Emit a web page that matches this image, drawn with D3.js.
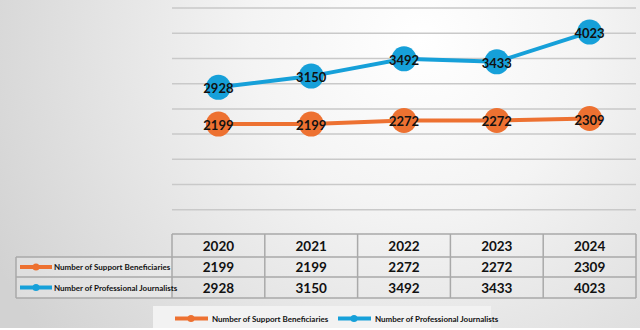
<!DOCTYPE html>
<html>
<head>
<meta charset="utf-8">
<script src="https://cdn.jsdelivr.net/npm/d3@7"></script>
<style>
  body { margin: 0; padding: 0; overflow: hidden; }
  svg { display: block; font-family: Lato, "Open Sans", sans-serif; font-weight: bold; }
</style>
</head>
<body>
<div id="chart-area"></div>
<script>
var years = ["2020", "2021", "2022", "2023", "2024"];
var beneficiaries = [2199, 2199, 2272, 2272, 2309];
var journalists = [2928, 3150, 3492, 3433, 4023];
var seriesNames = ["Number of Support Beneficiaries", "Number of Professional Journalists"];
var seriesColors = ["#ed7131", "#16a0d9"];

var width = 640;
var height = 330;

var svg = d3.select("#chart-area")
    .append("svg")
    .attr("width", width)
    .attr("height", height);

// background gradient
var defs = svg.append("defs");
var grad = defs.append("radialGradient")
    .attr("id", "bg")
    .attr("gradientUnits", "userSpaceOnUse")
    .attr("cx", 420).attr("cy", 40).attr("r", 480);
grad.append("stop").attr("offset", "0%").attr("stop-color", "#ffffff");
grad.append("stop").attr("offset", "35%").attr("stop-color", "#f4f4f4");
grad.append("stop").attr("offset", "100%").attr("stop-color", "#d2d2d2");

svg.append("rect")
    .attr("width", width)
    .attr("height", 328)
    .attr("fill", "url(#bg)");
svg.append("rect")
    .attr("y", 328)
    .attr("width", width)
    .attr("height", 2)
    .attr("fill", "#ffffff");

var x = d3.scaleBand()
    .domain(years)
    .range([172, 636]);

var y = d3.scaleLinear()
    .domain([0, 4500])
    .range([235, 8]);

// gridlines
svg.selectAll(".grid")
    .data(y.ticks(9).filter(function(d) { return d > 0; }))
    .enter()
    .append("line")
    .attr("class", "grid")
    .attr("x1", 172)
    .attr("x2", 636)
    .attr("y1", function(d) { return y(d); })
    .attr("y2", function(d) { return y(d); })
    .attr("stroke", "#c9c9c9")
    .attr("stroke-width", 1.5);

var series = [beneficiaries, journalists];

var line = d3.line()
    .x(function(d, i) { return x(years[i]) + x.bandwidth() / 2; })
    .y(function(d) { return y(d); });

series.forEach(function(values, s) {
    svg.append("path")
        .datum(values)
        .attr("d", line)
        .attr("fill", "none")
        .attr("stroke", seriesColors[s])
        .attr("stroke-width", 4);

    svg.selectAll(".dot" + s)
        .data(values)
        .enter()
        .append("circle")
        .attr("cx", function(d, i) { return x(years[i]) + x.bandwidth() / 2; })
        .attr("cy", function(d) { return y(d); })
        .attr("r", 12.5)
        .attr("fill", seriesColors[s]);

    svg.selectAll(".lbl" + s)
        .data(values)
        .enter()
        .append("text")
        .attr("x", function(d, i) { return x(years[i]) + x.bandwidth() / 2; })
        .attr("y", function(d) { return y(d) + 6; })
        .attr("text-anchor", "middle")
        .attr("font-size", 13)
        .attr("fill", "#111")
        .text(function(d) { return d; });
});

// data table
var rowY = [234, 257, 277, 298];
var table = svg.append("g");

table.append("rect")
    .attr("x", 16).attr("y", rowY[1])
    .attr("width", 156).attr("height", rowY[3] - rowY[1])
    .attr("fill", "#ffffff").attr("fill-opacity", 0.25);

var border = "#a9a9a9";
// horizontal lines
table.append("line").attr("x1", 172).attr("x2", 636).attr("y1", rowY[0]).attr("y2", rowY[0])
    .attr("stroke", border).attr("stroke-width", 1.5);
[rowY[1], rowY[2], rowY[3]].forEach(function(yy) {
    table.append("line").attr("x1", 16).attr("x2", 636).attr("y1", yy).attr("y2", yy)
        .attr("stroke", border).attr("stroke-width", 1.5);
});
// vertical lines
table.append("line").attr("x1", 16).attr("x2", 16).attr("y1", rowY[1]).attr("y2", rowY[3])
    .attr("stroke", border).attr("stroke-width", 1.5);
table.selectAll(".vline")
    .data(years.concat(["end"]))
    .enter()
    .append("line")
    .attr("x1", function(d) { return d === "end" ? 636 : x(d); })
    .attr("x2", function(d) { return d === "end" ? 636 : x(d); })
    .attr("y1", rowY[0])
    .attr("y2", rowY[3])
    .attr("stroke", border)
    .attr("stroke-width", 1.5);

table.selectAll(".yr")
    .data(years)
    .enter()
    .append("text")
    .attr("x", function(d) { return x(d) + x.bandwidth() / 2; })
    .attr("y", (rowY[0] + rowY[1]) / 2 + 5)
    .attr("text-anchor", "middle")
    .attr("font-size", 13.5)
    .attr("fill", "#111")
    .text(function(d) { return d; });

series.forEach(function(values, s) {
    var cy = (rowY[s + 1] + rowY[s + 2]) / 2;
    table.selectAll(".cell" + s)
        .data(values)
        .enter()
        .append("text")
        .attr("x", function(d, i) { return x(years[i]) + x.bandwidth() / 2; })
        .attr("y", cy + 5)
        .attr("text-anchor", "middle")
        .attr("font-size", 13.5)
        .attr("fill", "#111")
        .text(function(d) { return d; });

    table.append("line")
        .attr("x1", 20).attr("x2", 52).attr("y1", cy).attr("y2", cy)
        .attr("stroke", seriesColors[s]).attr("stroke-width", 4);
    table.append("circle")
        .attr("cx", 36).attr("cy", cy).attr("r", 3.5)
        .attr("fill", seriesColors[s]);
    table.append("text")
        .attr("x", 54).attr("y", cy + 3)
        .attr("font-size", 8)
        .attr("fill", "#111")
        .text(seriesNames[s]);
});

// bottom legend
var legend = svg.append("g");
legend.append("rect")
    .attr("x", 153).attr("y", 306)
    .attr("width", 338).attr("height", 22)
    .attr("fill", "#f2f2f2");

var legendX = [175, 338];
seriesNames.forEach(function(name, s) {
    var lx = legendX[s];
    legend.append("line")
        .attr("x1", lx).attr("x2", lx + 33).attr("y1", 318.5).attr("y2", 318.5)
        .attr("stroke", seriesColors[s]).attr("stroke-width", 4);
    legend.append("circle")
        .attr("cx", lx + 16).attr("cy", 318.5).attr("r", 3.5)
        .attr("fill", seriesColors[s]);
    legend.append("text")
        .attr("x", lx + 37).attr("y", 321.5)
        .attr("font-size", 8)
        .attr("fill", "#111")
        .text(name);
});
</script>
</body>
</html>
